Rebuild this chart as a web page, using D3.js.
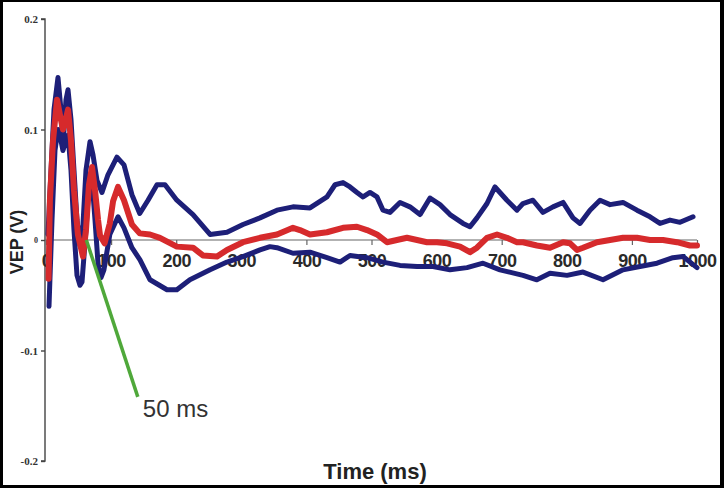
<!DOCTYPE html>
<html>
<head>
<meta charset="utf-8">
<script src="https://cdn.jsdelivr.net/npm/d3@7"></script>
<style>
  html, body { margin: 0; padding: 0; background: #000; }
  svg { display: block; }
</style>
</head>
<body>
<svg id="chart" width="724" height="488"></svg>
<script>
// ---- data ----
const xTicks = [0, 100, 200, 300, 400, 500, 600, 700, 800, 900, 1000];
const yTicks = [-0.2, -0.1, 0, 0.1, 0.2];
const yTickLabels = ["-0.2", "-0.1", "0", "0.1", "0.2"];

const upperT = [3, 7.7, 12.3, 18.4, 23, 26, 30.7, 33.8, 38.4, 43, 47.6, 52.2, 56.8, 61.4, 67.6, 72.2, 78.3, 86, 95.2, 109, 119.8, 132, 144, 156.7, 170.5, 182.8, 201, 225.8, 252, 278, 302.6, 328.7, 354.8, 379.4, 405.5, 431.6, 444, 456.2, 467, 477.7, 487, 497.7, 508.4, 517.7, 528.4, 543.8, 559, 574.5, 589.9, 605.2, 620.6, 640.6, 651.3, 662, 677.4, 689.7, 708, 723.5, 732.7, 748, 763.4, 778.8, 794.2, 809.5, 820.3, 835.6, 851, 866.4, 886.3, 907.8, 927.8, 943.2, 958.5, 973.9, 993.9];
const upperV = [0.005, 0.063, 0.118, 0.147, 0.118, 0.084, 0.127, 0.136, 0.109, 0.063, 0.018, -0.005, 0.014, 0.063, 0.089, 0.077, 0.054, 0.043, 0.059, 0.075, 0.068, 0.041, 0.024, 0.036, 0.050, 0.050, 0.036, 0.023, 0.005, 0.007, 0.014, 0.020, 0.027, 0.030, 0.029, 0.039, 0.050, 0.052, 0.048, 0.043, 0.039, 0.043, 0.039, 0.027, 0.025, 0.034, 0.030, 0.023, 0.038, 0.032, 0.023, 0.015, 0.012, 0.020, 0.033, 0.048, 0.036, 0.027, 0.033, 0.036, 0.025, 0.030, 0.034, 0.020, 0.015, 0.027, 0.036, 0.032, 0.034, 0.027, 0.021, 0.015, 0.018, 0.016, 0.021];

const meanT = [4, 6, 10.8, 17, 21.5, 26, 30.7, 33.8, 38.4, 43, 49, 56.8, 61.4, 66, 70.7, 75.3, 80, 83, 90, 98, 103, 110.6, 119.8, 132, 144, 159.8, 175, 201, 225.8, 241, 262.7, 278, 302.6, 328.7, 354.8, 379.4, 390, 405.5, 431.6, 456.2, 477.7, 493, 508.4, 523.8, 539, 554.5, 570, 585.3, 600.6, 616, 636, 651.3, 662, 677.4, 692.8, 708, 723.5, 732.7, 754, 774.2, 794.2, 805, 815.7, 824.9, 846.4, 866.4, 886.3, 907.8, 927.8, 947.8, 969.3, 989.2, 1000];
const meanV = [-0.035, 0.036, 0.09, 0.127, 0.113, 0.1, 0.11, 0.118, 0.09, 0.045, 0.005, -0.015, 0.009, 0.05, 0.066, 0.045, 0.018, 0.004, -0.003, 0.015, 0.035, 0.048, 0.036, 0.014, 0.006, 0.005, 0.002, -0.006, -0.007, -0.014, -0.015, -0.009, -0.002, 0.002, 0.005, 0.011, 0.009, 0.005, 0.007, 0.011, 0.012, 0.009, 0.005, -0.002, 0, 0.002, 0, -0.002, -0.002, -0.003, -0.006, -0.011, -0.007, 0.002, 0.005, 0.002, -0.002, -0.002, -0.005, -0.007, -0.002, -0.003, -0.009, -0.007, -0.002, 0, 0.002, 0.002, 0, 0, -0.002, -0.005, -0.005];

const lowerT = [4.6, 9.2, 13.8, 18.4, 23, 26, 30.7, 33.8, 38.4, 43, 47.6, 52.2, 55.3, 61.4, 66, 70.7, 75.3, 80, 84.5, 89, 98, 110.6, 119.8, 132, 144.4, 159.8, 185.9, 201, 221, 252, 278, 302.6, 328.7, 344, 354.8, 379.4, 405.5, 431.6, 451.6, 467, 493, 517.7, 543.8, 570, 594.5, 620.6, 646.7, 671.3, 697.4, 732.7, 754, 774.2, 800.3, 824.9, 855.6, 886.3, 912.4, 938.6, 963, 978.5, 1000];
const lowerV = [-0.06, 0.018, 0.081, 0.1, 0.09, 0.081, 0.09, 0.095, 0.063, 0.009, -0.032, -0.041, -0.038, 0.009, 0.05, 0.054, 0.018, -0.022, -0.034, -0.027, 0.005, 0.021, 0.011, -0.007, -0.018, -0.036, -0.045, -0.045, -0.036, -0.027, -0.020, -0.015, -0.009, -0.006, -0.007, -0.012, -0.011, -0.016, -0.020, -0.014, -0.016, -0.020, -0.023, -0.024, -0.024, -0.027, -0.025, -0.021, -0.027, -0.032, -0.036, -0.030, -0.032, -0.029, -0.036, -0.027, -0.024, -0.021, -0.016, -0.015, -0.025];

const annotation = { t0: 62, v0: 0, t1: 141, v1: -0.142, label: "50 ms" };

// ---- drawing ----
const W = 724, H = 488;
const svg = d3.select("#chart");

svg.append("rect").attr("x", 0).attr("y", 0).attr("width", W).attr("height", H).attr("fill", "#000");
svg.append("rect").attr("x", 3).attr("y", 2).attr("width", W - 7).attr("height", H - 5).attr("fill", "#fff");

const x = d3.scaleLinear().domain([0, 1000]).range([46, 697]);
const y = d3.scaleLinear().domain([-0.2, 0.2]).range([461, 19]);

// y axis
const yAxis = svg.append("g").attr("transform", `translate(45,0)`)
  .call(d3.axisLeft(y).tickValues(yTicks).tickSize(4).tickPadding(3)
    .tickFormat((d, i) => yTickLabels[i]));
yAxis.select(".domain").attr("stroke", "#444").attr("stroke-width", 1.4).attr("d", `M-4,${y(-0.2)}H0V${y(0.2)}H-4`);
yAxis.selectAll(".tick line").attr("stroke", "#444").attr("stroke-width", 1.4);
yAxis.selectAll(".tick text")
  .attr("font-family", "'Liberation Serif', 'DejaVu Serif', serif")
  .attr("font-weight", "bold")
  .attr("font-size", d => d === 0 ? 8 : 11)
  .attr("fill", "#333");

// x axis at y=0
const xAxis = svg.append("g").attr("transform", `translate(0,${y(0)})`)
  .call(d3.axisBottom(x).tickValues(xTicks).tickSize(5).tickPadding(12)
    .tickFormat(d3.format("d")));
xAxis.select(".domain").attr("stroke", "#666").attr("stroke-width", 1.2).attr("d", `M45,0H${x(1000)}`);
xAxis.selectAll(".tick line").attr("stroke", "#666").attr("stroke-width", 1.2);
xAxis.selectAll(".tick text")
  .attr("font-family", "'Liberation Sans', Arial, sans-serif")
  .attr("font-weight", "bold")
  .attr("font-size", 18)
  .attr("fill", "#2a2a2a")
  .attr("letter-spacing", "-0.5")
  .attr("dy", "0.55em");

// series
const line = d3.line().x(d => x(d[0])).y(d => y(d[1]));
const zip = (a, b) => a.map((t, i) => [t, b[i]]);

svg.append("path").datum(zip(lowerT, lowerV)).attr("d", line)
  .attr("fill", "none").attr("stroke", "#1d1f78").attr("stroke-width", 5)
  .attr("stroke-linejoin", "round").attr("stroke-linecap", "round");
svg.append("path").datum(zip(upperT, upperV)).attr("d", line)
  .attr("fill", "none").attr("stroke", "#1d1f78").attr("stroke-width", 5)
  .attr("stroke-linejoin", "round").attr("stroke-linecap", "round");
svg.append("path").datum(zip(meanT, meanV)).attr("d", line)
  .attr("fill", "none").attr("stroke", "#d62a2c").attr("stroke-width", 6)
  .attr("stroke-linejoin", "round").attr("stroke-linecap", "round");

// annotation
svg.append("line")
  .attr("x1", x(annotation.t0)).attr("y1", y(annotation.v0))
  .attr("x2", x(annotation.t1)).attr("y2", y(annotation.v1))
  .attr("stroke", "#4fa83a").attr("stroke-width", 3.5);
svg.append("text")
  .attr("x", x(annotation.t1) + 5).attr("y", y(annotation.v1) + 20)
  .attr("font-family", "'Liberation Sans', Arial, sans-serif")
  .attr("font-size", 24).attr("fill", "#333")
  .text(annotation.label);

// axis titles
svg.append("text")
  .attr("transform", `translate(23,242) rotate(-90)`)
  .attr("text-anchor", "middle")
  .attr("font-family", "'Liberation Sans', Arial, sans-serif")
  .attr("font-weight", "bold").attr("font-size", 18).attr("fill", "#222")
  .text("VEP (V)");
svg.append("text")
  .attr("x", 375).attr("y", 479)
  .attr("text-anchor", "middle")
  .attr("font-family", "'Liberation Sans', Arial, sans-serif")
  .attr("font-weight", "bold").attr("font-size", 22).attr("fill", "#222")
  .text("Time (ms)");
</script>
</body>
</html>
